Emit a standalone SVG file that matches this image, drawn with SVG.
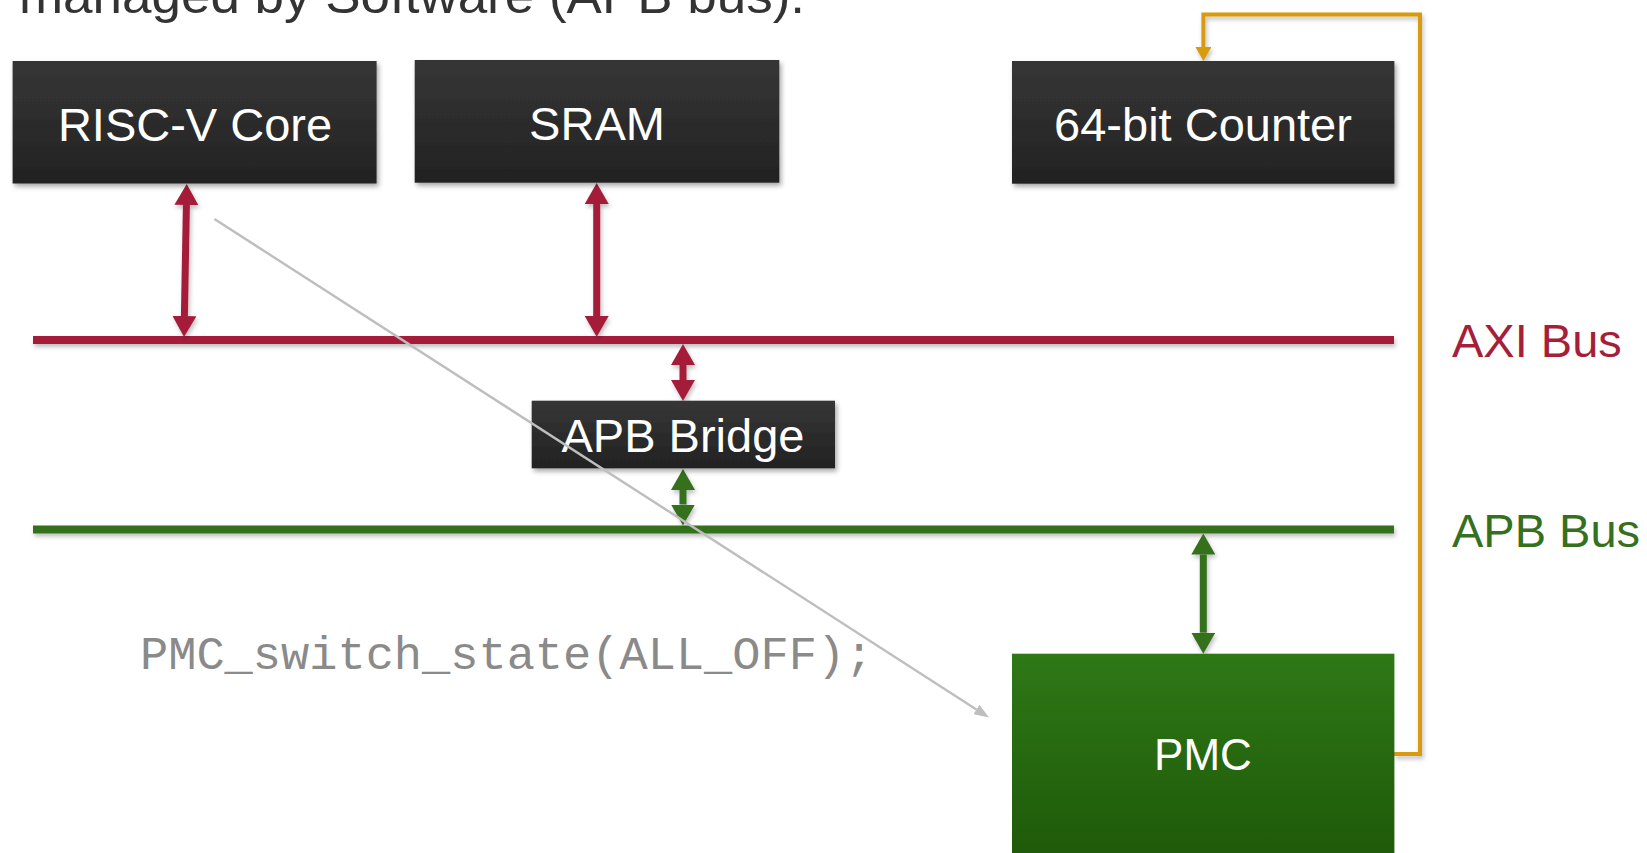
<svg xmlns="http://www.w3.org/2000/svg" width="1647" height="853" viewBox="0 0 1647 853">
  <style>
    .box-text { font-family: "Liberation Sans", Arial, sans-serif; font-size: 47px; fill: #ffffff; text-anchor: middle; }
    .bus-label { font-family: "Liberation Sans", Arial, sans-serif; font-size: 47px; }
    .code { font-family: "Liberation Mono", "Courier New", monospace; font-size: 47px; fill: #8a8a8a; }
    .title { font-family: "Liberation Sans", Arial, sans-serif; font-size: 50px; fill: #333333; }
    .axi { stroke: #A51F3A; }
    .apb { stroke: #35701F; }
  </style>
  <defs>
    <linearGradient id="darkFill" x1="0" y1="0" x2="0" y2="1">
      <stop offset="0" stop-color="#363636"/>
      <stop offset="1" stop-color="#222222"/>
    </linearGradient>
    <linearGradient id="pmcFill" x1="0" y1="0" x2="0" y2="1">
      <stop offset="0" stop-color="#2E7816"/>
      <stop offset="1" stop-color="#1F5A0A"/>
    </linearGradient>
    <filter id="shadow" x="-10%" y="-20%" width="125%" height="150%">
      <feDropShadow dx="2" dy="3" stdDeviation="2.5" flood-color="#000000" flood-opacity="0.35"/>
    </filter>
    <filter id="lineShadow" filterUnits="userSpaceOnUse" x="0" y="0" width="1647" height="853">
      <feDropShadow dx="1.5" dy="3" stdDeviation="2" flood-color="#000000" flood-opacity="0.25"/>
    </filter>
    <marker id="headRed" viewBox="0 -12 21 24" refX="0" refY="0" markerUnits="userSpaceOnUse" markerWidth="21" markerHeight="24" orient="auto-start-reverse">
      <path d="M0,-12 L21,0 L0,12 z" fill="#A51F3A"/>
    </marker>
    <marker id="headGreen" viewBox="0 -12 21 24" refX="0" refY="0" markerUnits="userSpaceOnUse" markerWidth="21" markerHeight="24" orient="auto-start-reverse">
      <path d="M0,-12 L21,0 L0,12 z" fill="#35701F"/>
    </marker>
    <marker id="headOrange" viewBox="0 -8 14 16" refX="0" refY="0" markerUnits="userSpaceOnUse" markerWidth="14" markerHeight="16" orient="auto">
      <path d="M0,-8 L14,0 L0,8 z" fill="#D89B0B"/>
    </marker>
    <marker id="headGray" viewBox="0 -5.5 15 11" refX="0" refY="0" markerUnits="userSpaceOnUse" markerWidth="15" markerHeight="11" orient="auto">
      <path d="M0,-5.5 L15,0 L0,5.5 z" fill="#BEBEBE"/>
    </marker>
  </defs>

  <rect width="1647" height="853" fill="#ffffff"/>

  <!-- slide heading, partly above the visible area -->
  <text class="title" x="19" y="13" textLength="786" lengthAdjust="spacingAndGlyphs">managed by Software (APB bus).</text>

  <!-- buses -->
  <g id="axi-bus">
    <rect x="33" y="336" width="1361" height="8" fill="#A51F3A" filter="url(#lineShadow)"/>
    <text class="bus-label" x="1452" y="357" fill="#A51F3A">AXI Bus</text>
  </g>
  <g id="apb-bus">
    <rect x="33" y="525.5" width="1361" height="8" fill="#35701F" filter="url(#lineShadow)"/>
    <text class="bus-label" x="1452" y="547" fill="#35701F">APB Bus</text>
  </g>

  <!-- connectors -->
  <g id="connectors" fill="none">
    <g filter="url(#lineShadow)">
      <line x1="186.4" y1="205" x2="184.4" y2="316" class="axi" stroke-width="7" marker-start="url(#headRed)" marker-end="url(#headRed)"/>
      <line x1="596.7" y1="204" x2="596.7" y2="316" class="axi" stroke-width="7" marker-start="url(#headRed)" marker-end="url(#headRed)"/>
      <line x1="683" y1="365" x2="683" y2="380" class="axi" stroke-width="7" marker-start="url(#headRed)" marker-end="url(#headRed)"/>
      <line x1="683" y1="490" x2="683" y2="504.5" class="apb" stroke-width="7" marker-start="url(#headGreen)" marker-end="url(#headGreen)"/>
      <line x1="1203.3" y1="554.5" x2="1203.3" y2="632.7" class="apb" stroke-width="7" marker-start="url(#headGreen)" marker-end="url(#headGreen)"/>
      <path d="M1394,754 H1420 V14.5 H1203.4 V47" stroke="#D89B0B" stroke-width="4" stroke-linejoin="miter" marker-end="url(#headOrange)"/>
    </g>
  </g>

  <!-- nodes -->
  <g id="risc-v-core">
    <rect x="12.6" y="61" width="364" height="122.5" fill="url(#darkFill)" filter="url(#shadow)"/>
    <text class="box-text" x="195" y="140.5">RISC-V Core</text>
  </g>
  <g id="sram">
    <rect x="414.7" y="60" width="364.6" height="122.7" fill="url(#darkFill)" filter="url(#shadow)"/>
    <text class="box-text" x="597" y="140">SRAM</text>
  </g>
  <g id="counter">
    <rect x="1012" y="61" width="382.4" height="122.7" fill="url(#darkFill)" filter="url(#shadow)"/>
    <text class="box-text" x="1203" y="140.7">64-bit Counter</text>
  </g>
  <g id="apb-bridge">
    <rect x="531.7" y="400.7" width="303.3" height="67.6" fill="url(#darkFill)" filter="url(#shadow)"/>
    <text class="box-text" x="683" y="451.7">APB Bridge</text>
  </g>
  <g id="pmc">
    <rect x="1012" y="653.7" width="382.4" height="200" fill="url(#pmcFill)"/>
    <text class="box-text" x="1203" y="770" style="font-size:44px">PMC</text>
  </g>

  <!-- software call and its arrow -->
  <g id="sw-call">
    <text class="code" x="140" y="669">PMC_switch_state(ALL_OFF);</text>
    <line x1="214.4" y1="219" x2="976.4" y2="709.4" stroke="#BEBEBE" stroke-width="2.4" marker-end="url(#headGray)"/>
  </g>
</svg>
